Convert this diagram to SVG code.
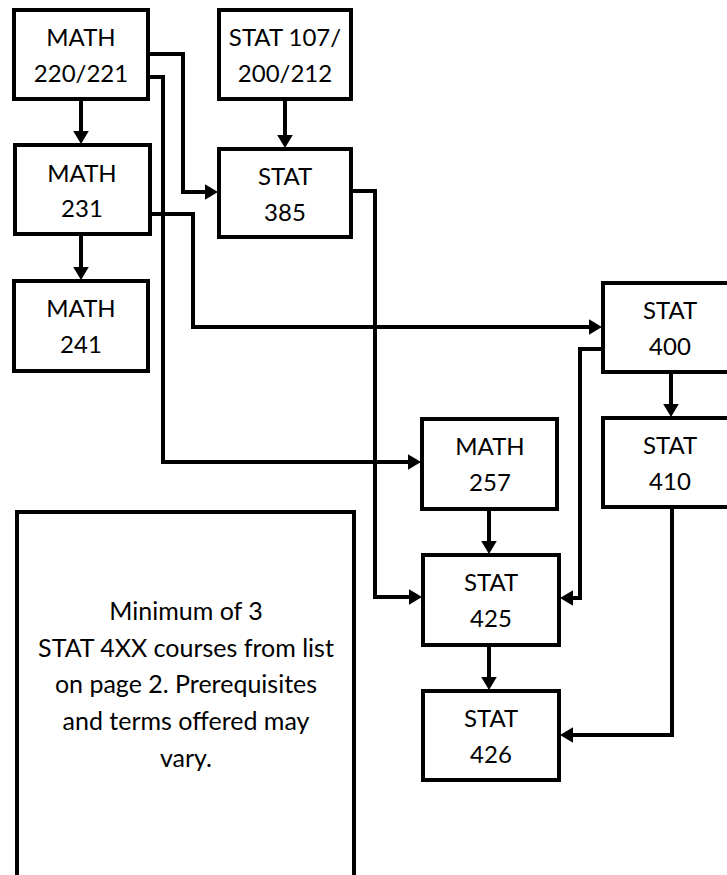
<svg xmlns="http://www.w3.org/2000/svg" width="727" height="875" viewBox="0 0 727 875">
<style>
.box{fill:#fff;stroke:#000;stroke-width:4}
.lbl{font-family:Lato,"Liberation Sans",sans-serif;font-size:24px;fill:#000;text-anchor:middle}
.note{font-size:25px}
.con{fill:none;stroke:#000;stroke-width:4;stroke-linejoin:miter}
</style>
<defs>
<marker id="ah" markerUnits="userSpaceOnUse" markerWidth="14" markerHeight="16" refX="0" refY="8" orient="auto" viewBox="0 0 14 16" overflow="visible">
<path d="M0,0.2 L13,8 L0,15.8 z" fill="#000"/>
</marker>
</defs>
<rect width="727" height="875" fill="#fff"/>
<g id="connectors">
<path class="con" d="M81,99 V131" marker-end="url(#ah)"/>
<path class="con" d="M148,54 H183 V192 H205" marker-end="url(#ah)"/>
<path class="con" d="M148,77 H163 V462 H408" marker-end="url(#ah)"/>
<path class="con" d="M285,99 V135" marker-end="url(#ah)"/>
<path class="con" d="M81,234 V267" marker-end="url(#ah)"/>
<path class="con" d="M150,214 H193 V327 H589" marker-end="url(#ah)"/>
<path class="con" d="M351,191 H375 V597 H409" marker-end="url(#ah)"/>
<path class="con" d="M603,349 H580 V598 H573" marker-end="url(#ah)"/>
<path class="con" d="M671,372 V404" marker-end="url(#ah)"/>
<path class="con" d="M672,507 V735 H573" marker-end="url(#ah)"/>
<path class="con" d="M489,509 V541" marker-end="url(#ah)"/>
<path class="con" d="M489,645 V677" marker-end="url(#ah)"/>
</g>
<g id="math220">
<rect class="box" x="14" y="10" width="134" height="89"/>
<text class="lbl" x="81" y="46">MATH</text>
<text class="lbl" x="81" y="82">220/221</text>
</g>
<g id="stat107">
<rect class="box" x="219" y="10" width="132" height="89"/>
<text class="lbl" x="285" y="46">STAT 107/</text>
<text class="lbl" x="285" y="82">200/212</text>
</g>
<g id="math231">
<rect class="box" x="15" y="145" width="135" height="89"/>
<text class="lbl" x="82" y="182">MATH</text>
<text class="lbl" x="82" y="217">231</text>
</g>
<g id="stat385">
<rect class="box" x="219" y="149" width="132" height="88"/>
<text class="lbl" x="285" y="185">STAT</text>
<text class="lbl" x="285" y="221">385</text>
</g>
<g id="math241">
<rect class="box" x="14" y="281" width="134" height="90"/>
<text class="lbl" x="81" y="317">MATH</text>
<text class="lbl" x="81" y="353">241</text>
</g>
<g id="stat400">
<rect class="box" x="603" y="283" width="134" height="89"/>
<text class="lbl" x="670" y="319">STAT</text>
<text class="lbl" x="670" y="355">400</text>
</g>
<g id="stat410">
<rect class="box" x="603" y="418" width="134" height="89"/>
<text class="lbl" x="670" y="454">STAT</text>
<text class="lbl" x="670" y="490">410</text>
</g>
<g id="math257">
<rect class="box" x="422" y="419" width="135" height="90"/>
<text class="lbl" x="490" y="455">MATH</text>
<text class="lbl" x="490" y="491">257</text>
</g>
<g id="stat425">
<rect class="box" x="423" y="555" width="136" height="90"/>
<text class="lbl" x="491" y="591">STAT</text>
<text class="lbl" x="491" y="627">425</text>
</g>
<g id="stat426">
<rect class="box" x="423" y="691" width="136" height="89"/>
<text class="lbl" x="491" y="727">STAT</text>
<text class="lbl" x="491" y="763">426</text>
</g>
<g id="note">
<rect class="box" x="17" y="512" width="337" height="380"/>
<text class="lbl note" x="186" y="620">Minimum of 3</text>
<text class="lbl note" x="186" y="657">STAT 4XX courses from list</text>
<text class="lbl note" x="186" y="693">on page 2. Prerequisites</text>
<text class="lbl note" x="186" y="730">and terms offered may</text>
<text class="lbl note" x="186" y="767">vary.</text>
</g>
</svg>
